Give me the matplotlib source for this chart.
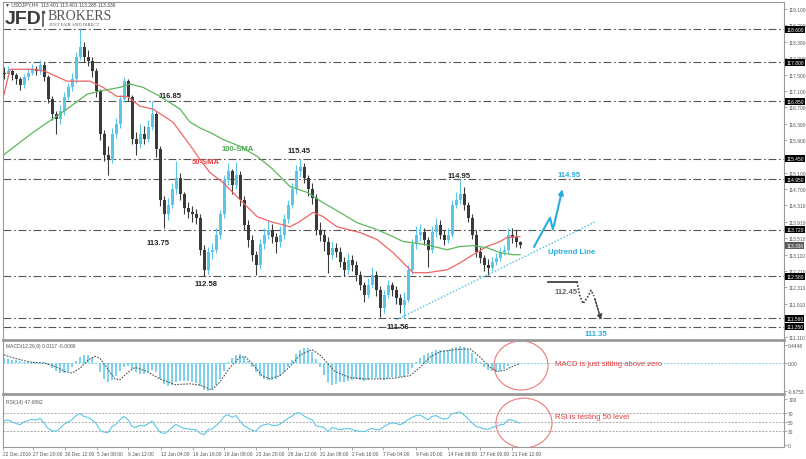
import numpy as np
import matplotlib
matplotlib.use('Agg')
import matplotlib.pyplot as plt
import matplotlib.transforms as mtransforms
from matplotlib.patches import Ellipse
from matplotlib.lines import Line2D

plt.rcParams['font.family'] = ['Liberation Sans', 'DejaVu Sans']

# USDJPY H4 candles (one candle per 8 hours)
first_open = 117.55
close = [117.51, 117.58, 117.49, 117.39, 117.24, 117.44, 117.54, 117.63, 117.58, 117.73,
         117.44, 116.90, 116.53, 116.41, 116.61, 116.95, 117.19, 117.39, 117.93, 118.17,
         117.93, 117.83, 117.58, 117.09, 116.04, 115.55, 115.43, 116.04, 116.29, 116.90,
         117.34, 116.95, 115.92, 115.80, 116.04, 115.92, 116.22, 116.53, 115.68, 114.45,
         114.09, 114.33, 114.70, 114.99, 114.58, 114.26, 114.16, 114.09, 114.01, 113.23,
         112.74, 113.18, 113.23, 113.60, 114.09, 114.94, 115.14, 114.82, 115.06, 114.45,
         113.84, 113.48, 113.11, 112.87, 113.36, 113.60, 113.72, 113.53, 113.43, 113.60,
         113.97, 114.33, 114.70, 115.14, 115.24, 114.99, 114.70, 114.50, 113.72, 113.60,
         113.43, 113.11, 113.28, 113.18, 112.94, 112.74, 112.99, 112.87, 112.62, 112.38,
         112.13, 112.38, 112.62, 112.25, 111.81, 112.13, 112.38, 112.25, 112.06, 111.89,
         112.01, 112.74, 113.36, 113.60, 113.67, 113.48, 113.23, 113.67, 113.84, 113.60,
         113.48, 113.60, 114.33, 114.45, 114.58, 114.33, 114.01, 113.60, 113.18, 113.03,
         112.87, 112.79, 112.94, 113.04, 113.18, 113.23, 113.60, 113.53, 113.43, 113.34]
high = [117.68, 117.70, 117.64, 117.55, 117.45, 117.52, 117.66, 117.75, 117.72, 117.85,
        117.80, 117.50, 116.98, 116.62, 116.75, 117.07, 117.30, 117.55, 118.05, 118.60,
        118.30, 118.10, 117.92, 117.65, 117.15, 116.15, 115.75, 116.20, 116.45, 117.00,
        117.45, 117.40, 117.00, 116.10, 116.30, 116.25, 116.40, 116.85, 116.60, 115.75,
        114.55, 114.50, 114.85, 115.40, 115.10, 114.65, 114.40, 114.30, 114.22, 114.10,
        113.35, 113.30, 113.40, 113.75, 114.20, 115.05, 115.35, 115.20, 115.38, 115.15,
        114.55, 113.95, 113.60, 113.20, 113.50, 113.75, 113.95, 113.85, 113.65, 113.80,
        114.10, 114.45, 114.85, 115.30, 115.45, 115.35, 115.05, 114.85, 114.60, 113.90,
        113.70, 113.55, 113.45, 113.40, 113.30, 113.05, 113.15, 113.10, 112.95, 112.70,
        112.45, 112.55, 112.80, 112.70, 112.35, 112.25, 112.50, 112.45, 112.35, 112.15,
        112.20, 112.85, 113.50, 113.80, 113.85, 113.75, 113.55, 113.80, 114.00, 113.95,
        113.70, 113.75, 114.45, 114.65, 114.95, 114.75, 114.40, 114.10, 113.70, 113.30,
        113.10, 113.00, 113.05, 113.15, 113.30, 113.35, 113.75, 113.75, 113.70, 113.45]
low = [117.40, 117.45, 117.38, 117.28, 117.12, 117.18, 117.38, 117.48, 117.50, 117.52,
       117.35, 116.80, 116.40, 116.05, 116.30, 116.52, 116.88, 117.10, 117.30, 117.85,
       117.80, 117.70, 117.45, 116.95, 115.90, 115.40, 115.05, 115.35, 115.95, 116.20,
       116.82, 116.85, 115.80, 115.55, 115.70, 115.80, 115.85, 116.15, 115.50, 114.30,
       113.75, 113.95, 114.25, 114.60, 114.45, 114.10, 114.00, 113.90, 113.85, 113.10,
       112.58, 112.65, 113.00, 113.15, 113.50, 114.00, 114.80, 114.60, 114.70, 114.30,
       113.70, 113.30, 112.95, 112.62, 112.75, 113.25, 113.50, 113.40, 113.15, 113.30,
       113.50, 113.88, 114.25, 114.60, 115.00, 114.85, 114.55, 114.35, 113.60, 113.45,
       113.20, 112.67, 113.00, 113.05, 112.80, 112.60, 112.65, 112.70, 112.48, 112.25,
       111.95, 112.05, 112.30, 112.10, 111.60, 111.70, 112.05, 112.10, 111.90, 111.70,
       111.56, 111.95, 112.65, 113.25, 113.45, 113.35, 112.80, 113.15, 113.55, 113.50,
       113.35, 113.40, 113.55, 114.25, 114.35, 114.20, 113.90, 113.50, 113.05, 112.90,
       112.70, 112.62, 112.70, 112.85, 112.95, 113.10, 113.15, 113.40, 113.30, 113.28]

# moving averages, sampled along the drawn curves (x = candle index)
sma50_x = [0, 1.5, 7.25, 10.25, 15.75, 21.5, 24.75, 28.25, 30.75, 34, 37.25, 42.25, 47.25,
           49, 51.5, 54.75, 59, 63.25, 66.5, 71.5, 74, 77.25, 79.75, 83.25, 89, 93.25, 97.25,
           100.75, 102.25, 105.75, 110.75, 114, 117.25, 120.75, 124, 125.75, 129]
sma50 = [117.02, 117.63, 117.63, 117.58, 117.34, 117.34, 117.19, 116.97, 116.97, 116.73,
         116.66, 116.34, 115.68, 115.43, 115.11, 114.87, 114.45, 114.04, 113.92, 113.79,
         113.92, 114.14, 114.04, 113.79, 113.65, 113.48, 113.16, 112.82, 112.67, 112.67,
         112.74, 112.91, 113.11, 113.31, 113.43, 113.53, 113.55]
sma100_x = [0, 7.25, 15.75, 20.75, 24, 29, 31.5, 34.75, 39, 44, 46.5, 49, 51.5, 54.75, 59,
            63.25, 67.25, 71.5, 75.75, 79.75, 84, 88.25, 93.25, 97.25, 99.75, 102.25, 105.75,
            110.75, 114, 117.25, 120.75, 124, 127.25, 129]
sma100 = [115.55, 116.09, 116.66, 117.02, 117.10, 117.19, 117.27, 117.19, 116.97, 116.66,
          116.34, 116.20, 116.09, 115.92, 115.75, 115.51, 115.19, 114.77, 114.63, 114.38,
          114.14, 113.89, 113.72, 113.55, 113.43, 113.40, 113.35, 113.23, 113.31, 113.33,
          113.28, 113.16, 113.11, 113.11]

# MACD(12,26,9) main line (histogram) per candle, and its signal line
macd = [0.12, 0.11, 0.09, 0.07, 0.05, 0.03, 0.02, 0.02, 0.03, 0.04,
        0.02, -0.05, -0.12, -0.19, -0.23, -0.24, -0.18, -0.08, 0.06, 0.16,
        0.20, 0.19, 0.12, -0.02, -0.22, -0.38, -0.45, -0.40, -0.32, -0.18,
        -0.08, -0.07, -0.15, -0.22, -0.25, -0.25, -0.22, -0.17, -0.22, -0.38,
        -0.50, -0.55, -0.52, -0.45, -0.42, -0.42, -0.43, -0.45, -0.47, -0.55,
        -0.65, -0.68, -0.62, -0.52, -0.38, -0.18, 0.02, 0.12, 0.20, 0.22,
        0.15, 0.05, -0.08, -0.22, -0.32, -0.38, -0.40, -0.40, -0.38, -0.32,
        -0.22, -0.08, 0.08, 0.22, 0.32, 0.38, 0.36, 0.28, 0.10, -0.10,
        -0.28, -0.45, -0.52, -0.50, -0.46, -0.45, -0.43, -0.40, -0.38, -0.40,
        -0.42, -0.40, -0.36, -0.35, -0.38, -0.40, -0.37, -0.34, -0.33, -0.34,
        -0.33, -0.25, -0.12, 0.02, 0.12, 0.20, 0.24, 0.28, 0.31, 0.32,
        0.31, 0.32, 0.36, 0.40, 0.42, 0.40, 0.34, 0.24, 0.12, 0.02,
        -0.08, -0.16, -0.20, -0.21, -0.18, -0.13, -0.06, -0.02, 0.00, 0.0117]
signal_x = [0, 2.75, 6.5, 10.25, 12.75, 15.25, 17, 19, 21, 22.75, 24, 26, 27.75, 29, 31,
            32.75, 35.25, 39, 42.75, 46.5, 49, 52, 54, 56.5, 59, 60.25, 62, 64.5, 66.5, 69,
            71.5, 74, 77, 79, 82.75, 86.5, 90.25, 94, 97.75, 101.5, 104, 106.5, 109, 112.75,
            116.5, 119, 121.5, 123.25, 125.25, 127, 129]
signal = [0.20, 0.12, 0.03, 0.00, -0.08, -0.20, -0.24, -0.12, 0.08, 0.17, 0.12, -0.15, -0.38,
          -0.40, -0.22, -0.10, -0.18, -0.38, -0.52, -0.50, -0.53, -0.65, -0.45, -0.10, 0.15,
          0.16, 0.00, -0.30, -0.38, -0.30, -0.08, 0.20, 0.33, 0.20, -0.20, -0.35, -0.38,
          -0.38, -0.36, -0.30, -0.10, 0.15, 0.28, 0.33, 0.35, 0.15, -0.10, -0.20, -0.17,
          -0.08, -0.0086]

# RSI(14) per candle
rsi = [52, 55, 50, 47, 44, 50, 53, 56, 54, 58,
       48, 36, 31, 30, 36, 45, 50, 55, 64, 68,
       62, 60, 55, 47, 33, 28, 27, 40, 45, 55,
       62, 55, 40, 38, 43, 41, 46, 52, 40, 28,
       25, 30, 38, 45, 40, 36, 35, 34, 33, 26,
       22, 33, 35, 42, 50, 62, 66, 60, 64, 52,
       42, 37, 32, 30, 40, 44, 46, 43, 42, 45,
       52, 58, 63, 69, 70, 63, 58, 55, 42, 40,
       38, 29, 38, 36, 33, 35, 36, 34, 31, 30,
       29, 33, 36, 33, 34, 40, 45, 48, 47, 44,
       48, 55, 60, 64, 65, 60, 55, 62, 64, 59,
       56, 58, 68, 70, 72, 65, 58, 48, 40, 38,
       35, 34, 38, 40, 44, 45, 55, 54, 51, 47.69]

levels = [118.60, 117.80, 116.85, 115.45, 114.95, 113.72, 112.58, 111.56, 111.35]
axis_prices = [119.1, 118.7, 118.3, 117.9, 117.5, 117.1, 116.7, 116.3, 115.9, 115.1,
               114.7, 114.31, 113.91, 113.51, 113.11, 112.71, 112.31, 111.91, 111.11]
last_price = 113.336

date_pos = [-0.25, 7.25, 15.25, 23.25, 31, 39.25, 47.25, 55, 63, 71, 79, 87, 94.75,
            103, 111, 119, 127]
date_labels = ['22 Dec 2016', '27 Dec 20:00', '30 Dec 12:00', '5 Jan 08:00', '9 Jan 12:00',
               '12 Jan 04:00', '16 Jan 16:00', '19 Jan 08:00', '23 Jan 20:00',
               '26 Jan 12:00', '31 Jan 08:00', '2 Feb 16:00', '7 Feb 04:00',
               '9 Feb 20:00', '14 Feb 08:00', '17 Feb 00:00', '21 Feb 12:00']

# scenario sketch drawn on the right
up_path_x = [132.5, 136.5, 137.25]
up_path_y = [113.30, 114.01, 113.72]
up_tip = (139.75, 114.77)
down_path_x = [143.25, 144.0, 144.75, 145.75, 146.75, 147.5]
down_path_y = [112.45, 112.10, 111.92, 112.05, 112.24, 112.10]
down_tip = (149.5, 111.45)
trend_x = [98, 148]
trend_y = [111.52, 113.92]

W, H = 806, 460
fig = plt.figure(figsize=(W / 100, H / 100), dpi=100)


def rect(x0, y0, x1, y1):
    return [x0 / W, 1 - y1 / H, (x1 - x0) / W, (y1 - y0) / H]


ax = fig.add_axes(rect(3, 3, 784, 341))
axm = fig.add_axes(rect(3, 343, 784, 395), sharex=ax)
axr = fig.add_axes(rect(3, 397, 784, 448), sharex=ax)

idx = np.arange(len(close))
c = np.array(close)
o = np.array([first_open] + close[:-1])
bull = c >= o
col = np.where(bull, '#5bc6ea', '#3a3a3a')

# candles
ax.vlines(idx, low, high, colors=col, lw=0.8, zorder=3)
ax.bar(idx, np.maximum(np.abs(c - o), 0.02), bottom=np.minimum(c, o), width=0.75,
       color=col, zorder=3)

ax.plot(sma50_x, sma50, color='#f26464', lw=0.9, zorder=4)
ax.plot(sma100_x, sma100, color='#5cb85c', lw=0.9, zorder=4)

for lv in levels:
    ax.axhline(lv, color='#555555', lw=0.8, ls=(0, (7, 2.5, 1.5, 2.5)), zorder=2)

ax.plot(trend_x, trend_y, color='#5bc8e8', lw=1.0, ls=(0, (1.2, 1.2)), zorder=4)

# price labels
lab_kw = dict(fontsize=5.5, fontweight='bold', color='#222222', ha='center', va='center')
ax.text(41.5, 116.98, '116.85', **lab_kw)
ax.text(38.5, 113.40, '113.75', **lab_kw)
ax.text(50.5, 112.41, '112.58', **lab_kw)
ax.text(73.75, 115.66, '115.45', **lab_kw)
ax.text(98.5, 111.36, '111.56', **lab_kw)
ax.text(113.75, 115.05, '114.95', **lab_kw)
ax.text(58.5, 115.70, '100-SMA', fontsize=5.5, fontweight='bold', color='#4aa84a',
        ha='center', va='center')
ax.text(50.5, 115.38, '50-SMA', fontsize=5.5, fontweight='bold', color='#ee3b3b',
        ha='center', va='center')

# scenario
blue = '#29abe2'
ax.plot(up_path_x, up_path_y, color=blue, lw=1.5, solid_capstyle='round', zorder=5)
ax.annotate('', xy=up_tip, xytext=(up_path_x[-1], up_path_y[-1]),
            arrowprops=dict(arrowstyle='-|>', color=blue, lw=1.5, mutation_scale=7))
ax.text(141.25, 115.07, '114.95', fontsize=5.5, fontweight='bold', color=blue,
        ha='center', va='center')
ax.text(142.0, 113.18, 'Uptrend Line', fontsize=5.5, fontweight='bold', color=blue,
        ha='center', va='center')
ax.plot([136, 143.25], [112.45, 112.45], color='#333333', lw=1.2, zorder=5)
ax.text(140.5, 112.21, '112.45', fontsize=5.5, fontweight='bold', color='#666666',
        ha='center', va='center')
ax.plot(down_path_x, down_path_y, color='#444444', lw=1.2, ls=(0, (1, 1)), zorder=5)
ax.annotate('', xy=down_tip, xytext=(down_path_x[-1], down_path_y[-1]),
            arrowprops=dict(arrowstyle='-|>', color='#444444', lw=1.2, ls=(0, (1, 1)),
                            mutation_scale=7))
ax.text(148.0, 111.18, '111.35', fontsize=5.5, fontweight='bold', color=blue,
        ha='center', va='center')

ax.set_xlim(-0.25, 195)
ax.set_ylim(111.03, 119.27)

# MACD panel
axm.bar(idx, macd, width=0.5, color='#7dd3ee', zorder=2)
axm.axhline(0, color='#7dd3ee', lw=0.7, ls=(0, (2, 1.5)), zorder=1)
axm.plot(signal_x, signal, color='#555555', lw=0.8, ls=(0, (1.5, 1.2)), zorder=3)
axm.set_ylim(-0.747, 0.516)
axm.add_patch(Ellipse((129.25, -0.055), 13.5, 1.19, fill=False, ec='#f07878', lw=0.8))
axm.text(137.75, 0.0, 'MACD is just sitting above zero', fontsize=5.5, color='#e83a3a',
         ha='left', va='center')
axm.text(0.004, 0.93, 'MACD(12,26,9) 0.0117 -0.0086', transform=axm.transAxes,
         fontsize=3.6, color='#555555', ha='left', va='center')

# RSI panel
axr.plot(idx, rsi, color='#5bc8e8', lw=0.8, zorder=3)
for lv in (70, 50, 30):
    axr.axhline(lv, color='#aaaaaa', lw=0.7, ls=(0, (2, 1.5)), zorder=1)
axr.set_ylim(-4.3, 106.5)
axr.add_patch(Ellipse((130, 47.8), 14, 108, fill=False, ec='#f07878', lw=0.8))
axr.text(137.75, 63, 'RSI is testing 50 level', fontsize=5.5, color='#e83a3a',
         ha='left', va='center')
axr.text(0.004, 0.9, 'RSI(14) 47.6892', transform=axr.transAxes,
         fontsize=3.6, color='#555555', ha='left', va='center')

# axes styling
for a in (ax, axm, axr):
    a.yaxis.tick_right()
    a.tick_params(axis='y', labelsize=3.5, length=2, width=0.5, pad=1,
                  color='#888888', labelcolor='#555555')
    for s in a.spines.values():
        s.set_color('#999999')
        s.set_linewidth(0.8)
    a.set_facecolor('white')
ax.spines['bottom'].set_linewidth(2.0)
axm.spines['bottom'].set_linewidth(2.0)
axm.spines['top'].set_visible(False)
axr.spines['top'].set_visible(False)

ax.set_yticks(axis_prices)
ax.set_yticklabels([f'{p:.3f}' for p in axis_prices])
axm.set_yticks([0.4448, 0.0, -0.6753])
axm.set_yticklabels(['0.4448', '0.00', '-0.6753'])
axr.set_yticks([100, 70, 50, 30, 0])
axr.set_yticklabels(['100', '70', '50', '30', '0'])

ax.tick_params(axis='x', bottom=False, labelbottom=False)
axm.tick_params(axis='x', bottom=False, labelbottom=False)
axr.set_xticks(date_pos)
axr.set_xticklabels(date_labels)
axr.tick_params(axis='x', labelsize=3.5, length=2, width=0.5, pad=1,
                color='#888888', labelcolor='#555555')
for t in axr.get_xticklabels():
    t.set_ha('left')

# highlighted levels on the price scale
blend = mtransforms.blended_transform_factory(ax.transAxes, ax.transData)
for lv in levels:
    ax.text(1.003, lv, f'{lv:.3f}', transform=blend, fontsize=3.5, color='white',
            ha='left', va='center', clip_on=False, zorder=10,
            bbox=dict(fc='black', ec='none', pad=0.7))
ax.text(1.003, last_price, f'{last_price:.3f}', transform=blend, fontsize=3.5,
        color='white', ha='left', va='center', clip_on=False, zorder=10,
        bbox=dict(fc='#5a5a5a', ec='none', pad=0.7))

# header and logo
fig.text(5 / W, 1 - 5 / H, '\u25bc USDJPY,H4  113.401 113.401 113.285 113.336',
         fontsize=3.6, color='#444444', ha='left', va='center')
fig.text(5 / W, 1 - 19 / H, 'JFD', fontsize=14, fontweight='bold', color='#3a3a3a',
         ha='left', va='center')
fig.add_artist(Line2D([43 / W, 43 / W], [1 - 16 / H, 1 - 27 / H], color='#555555',
                      lw=1.2, transform=fig.transFigure))
fig.add_artist(Line2D([43 / W], [1 - 12.5 / H], marker='o', markersize=1.6,
                      color='#555555', transform=fig.transFigure))
fig.text(48 / W, 1 - 16 / H, 'BROKERS', fontsize=10, family='Liberation Serif',
         color='#555555', ha='left', va='center')
fig.text(49 / W, 1 - 24.5 / H, 'JUST FAIR AND DIRECT', fontsize=3.3,
         family='Liberation Serif', color='#555555', ha='left', va='center')

fig.savefig('out.png', dpi=100)
